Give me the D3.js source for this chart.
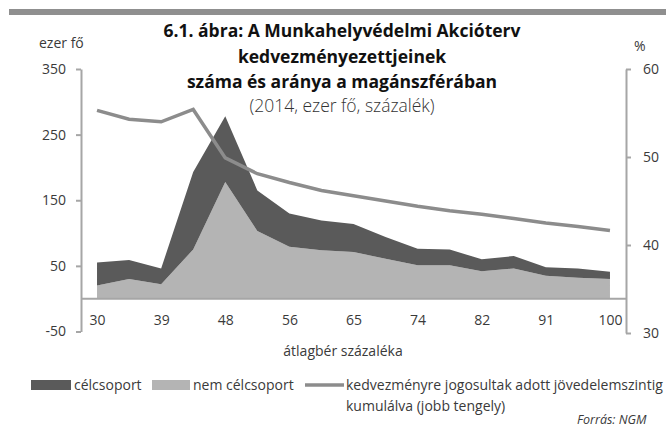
<html>
<head>
<script src='https://d3js.org/d3.v7.min.js'></script>
<style>
	body { margin: 0; background: white; }
	svg { display: block; font-family: 'Open Sans', sans-serif; }
</style>
</head>
<body>
<svg width=666 height=432></svg>
<script>

// categories: average wage percentage
var cats = [30, 34, 39, 43, 48, 52, 56, 61, 65, 69, 74, 78, 82, 87, 91, 96, 100];
var tickLabels = [30, 39, 48, 56, 65, 74, 82, 91, 100];

// thousand persons
var nemCelcsoport = [20, 30, 22, 75, 178, 103, 79, 74, 71, 61, 51, 51, 42, 46, 35, 32, 30];
var celcsoport = [35, 29, 24, 118, 100, 62, 51, 45, 43, 33, 25, 24, 18, 19, 13, 14, 11];

// percent, right axis
var kumulalt = [55.3, 54.3, 54.0, 55.4, 49.9, 48.1, 47.1, 46.2, 45.6, 45.0, 44.4, 43.9, 43.5, 43.0, 42.5, 42.1, 41.65];

var leftTicks = [-50, 50, 150, 250, 350];
var rightTicks = [30, 40, 50, 60];

var svg = d3.select("svg");

var darkCol = "#5a5a5a";
var lightCol = "#b4b4b4";
var lineCol = "#8c8c8c";
var axisCol = "#a6a6a6";
var textCol = "#3a3a3a";
var fs = "14px";

// top rule
svg.append("rect")
  .attr("x", 9).attr("y", 9)
  .attr("width", 657).attr("height", 6)
  .attr("fill", "#8f8f8f");

// scales
var x = d3.scalePoint().domain(cats).range([81, 626]).padding(0.5);
var y = d3.scaleLinear().domain([-50, 350]).range([331.5, 69]);
var y2 = d3.scaleLinear().domain([30, 60]).range([333, 69]);

// stacked areas
var rows = cats.map(function(c, i) {
  return {cat: c, nem: nemCelcsoport[i], cel: celcsoport[i]};
});
var stack = d3.stack().keys(["nem", "cel"]);
var layers = stack(rows);
var colors = {nem: lightCol, cel: darkCol};

var area = d3.area()
  .x(function(d) { return x(d.data.cat); })
  .y0(function(d) { return y(d[0]); })
  .y1(function(d) { return y(d[1]); });

svg.append("g").selectAll("path").data(layers).enter().append("path")
  .attr("d", area)
  .attr("fill", function(d) { return colors[d.key]; });

// x baseline at zero
svg.append("line")
  .attr("x1", 81).attr("x2", 626)
  .attr("y1", y(0)).attr("y2", y(0))
  .attr("stroke", axisCol).attr("stroke-width", 2);

// left axis (plain hyphen for negatives)
var yaxis = svg.append("g")
  .attr("transform", "translate(81,0)")
  .call(d3.axisLeft(y).tickValues(leftTicks).tickFormat(function(d) { return String(d); })
    .tickSize(5).tickPadding(10).tickSizeOuter(0));

// right axis
var yaxis2 = svg.append("g")
  .attr("transform", "translate(626,0)")
  .call(d3.axisRight(y2).tickValues(rightTicks).tickSize(5).tickPadding(12).tickSizeOuter(0));

// x axis labels (no ticks)
var xaxis = svg.append("g")
  .attr("transform", "translate(0," + 315 + ")")
  .call(d3.axisBottom(x).tickValues(tickLabels).tickSize(0).tickPadding(0));
xaxis.select(".domain").remove();

[yaxis, yaxis2, xaxis].forEach(function(a) {
  a.selectAll(".domain").attr("stroke", axisCol).attr("stroke-width", 2);
  a.selectAll(".tick line").attr("stroke", axisCol).attr("stroke-width", 2);
  a.selectAll("text").attr("fill", textCol).style("font-size", fs)
    .style("font-family", "'Open Sans', sans-serif");
});

// cumulative line
svg.append("path")
  .datum(kumulalt)
  .attr("fill", "none")
  .attr("stroke", lineCol)
  .attr("stroke-width", 3.5)
  .attr("d", d3.line()
    .x(function(d, i) { return x(cats[i]); })
    .y(function(d) { return y2(d); }));

// title
var title = ["6.1. ábra: A Munkahelyvédelmi Akcióterv", "kedvezményezettjeinek", "száma és aránya a magánszférában"];
svg.append("g").selectAll("text").data(title).enter().append("text")
  .attr("x", 342)
  .attr("y", function(d, i) { return 37 + i * 25.5; })
  .attr("text-anchor", "middle")
  .style("font-size", "17.5px").style("font-weight", "bold")
  .attr("fill", "#111")
  .text(function(d) { return d; });

svg.append("text")
  .attr("x", 342).attr("y", 112)
  .attr("text-anchor", "middle")
  .style("font-size", "17.5px").style("font-weight", "300")
  .attr("fill", "#333")
  .text("(2014, ezer fő, százalék)");

// axis units
svg.append("text").attr("x", 39).attr("y", 48)
  .style("font-size", fs).attr("fill", textCol).text("ezer fő");
svg.append("text").attr("x", 634).attr("y", 51)
  .style("font-size", fs).attr("fill", textCol).text("%");

// x axis title
svg.append("text").attr("x", 343).attr("y", 356)
  .attr("text-anchor", "middle")
  .style("font-size", fs).attr("fill", textCol).text("átlagbér százaléka");

// legend
var leg = svg.append("g");
leg.append("rect").attr("x", 31).attr("y", 380).attr("width", 40).attr("height", 10).attr("fill", darkCol);
leg.append("text").attr("x", 74).attr("y", 390).style("font-size", fs).attr("fill", textCol).text("célcsoport");
leg.append("rect").attr("x", 152).attr("y", 380).attr("width", 38).attr("height", 10).attr("fill", lightCol);
leg.append("text").attr("x", 193).attr("y", 390).style("font-size", fs).attr("fill", textCol).text("nem célcsoport");
leg.append("line").attr("x1", 305).attr("x2", 344).attr("y1", 385).attr("y2", 385)
  .attr("stroke", lineCol).attr("stroke-width", 3.5);
leg.append("text").attr("x", 346).attr("y", 390).style("font-size", fs).attr("fill", textCol)
  .text("kedvezményre jogosultak adott jövedelemszintig");
leg.append("text").attr("x", 346).attr("y", 411).style("font-size", fs).attr("fill", textCol)
  .text("kumulálva (jobb tengely)");

// source
svg.append("text").attr("x", 577).attr("y", 424)
  .style("font-size", "12.5px").style("font-style", "italic").attr("fill", textCol)
  .text("Forrás: NGM");

</script>
</body>
</html>
